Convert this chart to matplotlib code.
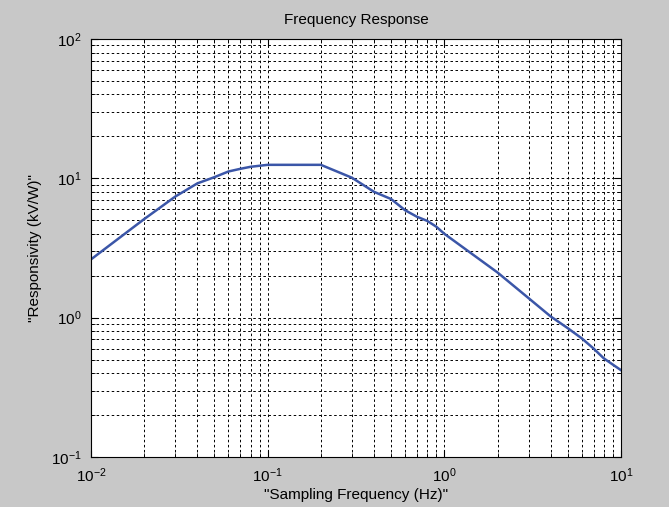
import numpy as np
import matplotlib.pyplot as plt
from matplotlib.ticker import LogLocator, NullFormatter

# frequency (Hz) and responsivity (kV/W)
freq = [0.01, 0.02, 0.03, 0.04, 0.05, 0.06, 0.07, 0.08, 0.1, 0.2,
        0.3, 0.4, 0.5, 0.6, 0.7, 0.8, 0.9, 1.0, 2.0, 3.0,
        4.0, 5.0, 6.0, 7.0, 8.0, 9.0, 10.0]
resp = [2.62, 5.1, 7.4, 9.2, 10.2, 11.2, 11.7, 12.1, 12.5, 12.5,
        10.1, 8.0, 7.1, 5.9, 5.3, 4.95, 4.5, 4.0, 2.11, 1.38,
        1.02, 0.84, 0.71, 0.60, 0.51, 0.46, 0.42]

title = "Frequency Response"
xlabel = '"Sampling Frequency (Hz)"'
ylabel = '"Responsivity (kV/W)"'

plt.rcParams["font.family"] = ["Liberation Sans", "DejaVu Sans"]
plt.rcParams["mathtext.default"] = "regular"

fig = plt.figure(figsize=(6.69, 5.07), dpi=100, facecolor="#c8c8c8")
ax = fig.add_axes([91 / 669, 1 - 457 / 507, 530 / 669, 418 / 507])

ax.plot(freq, resp, color="#3b56a8", lw=1.8)

ax.set_xscale("log")
ax.set_yscale("log")
ax.set_xlim(1e-2, 1e1)
ax.set_ylim(1e-1, 1e2)

for axis in (ax.xaxis, ax.yaxis):
    axis.set_major_locator(LogLocator(base=10, numticks=10))
    axis.set_minor_locator(LogLocator(base=10, subs=np.arange(2, 10), numticks=10))
    axis.set_minor_formatter(NullFormatter())

ax.grid(True, which="both", color="black", ls=(0, (2.6, 2.6)), lw=0.7)
ax.tick_params(which="both", direction="in", top=True, right=True,
               labelsize=11, colors="black", pad=7)
ax.tick_params(which="major", length=5)
ax.tick_params(which="minor", length=3)
for s in ax.spines.values():
    s.set_linewidth(0.8)

ax.set_title(title, fontsize=11, pad=11)
ax.set_xlabel(xlabel, fontsize=11, labelpad=2)
ax.set_ylabel(ylabel, fontsize=11, labelpad=6)

fig.savefig("out.png", dpi=100, facecolor=fig.get_facecolor())
